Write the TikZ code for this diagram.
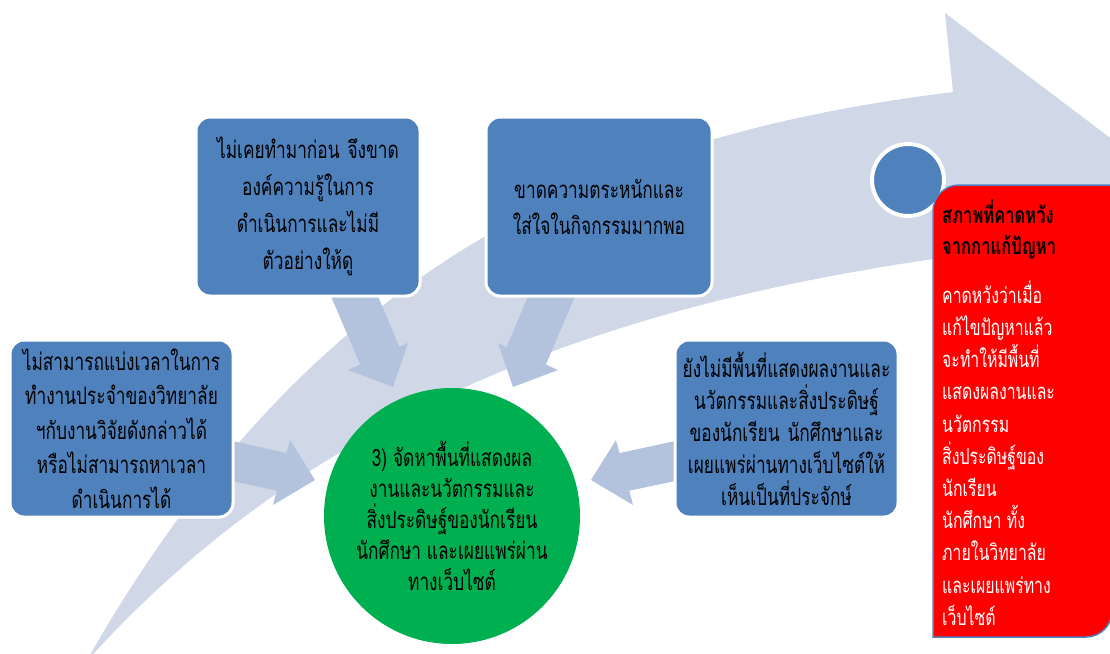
\documentclass[tikz,border=0pt]{standalone}
\usepackage{fontspec}
\newfontfamily\thai[Script=Thai,FakeStretch=0.72]{Loma}
\definecolor{bigarrow}{HTML}{D0D8E8}
\definecolor{medarrow}{HTML}{B3C2DD}
\definecolor{boxblue}{HTML}{4F81BD}
\definecolor{green1}{HTML}{00B050}
\tikzset{
  bluebox/.style={draw=white, line width=3pt, fill=boxblue, rounded corners=14pt, align=center, inner sep=0pt, text=black},
  medarr/.style={fill=medarrow, draw=none},
}
\begin{document}
\begin{tikzpicture}[x=1pt,y=-1pt]
\useasboundingbox (0,0) rectangle (1110,653);
\clip (0,0) rectangle (1110,653);
% big curved arrow
\fill[bigarrow] (86,662) .. controls (330,390) and (650,300) .. (940,258) -- (960,335) -- (1150,168) -- (945,13) -- (953,92) .. controls (650,130) and (330,230) .. (86,662) -- cycle;
% medium arrows
\fill[medarr] (330,294) -- (360.1,364.5) -- (348,370) -- (393,387) -- (408,343) -- (399.4,347) -- (377,294) -- cycle;
\fill[medarr] (576,294) -- (545.9,364.5) -- (558,370) -- (513,387) -- (498,343) -- (506.6,347) -- (529,294) -- cycle;
\fill[medarr] (228,440) -- (286.6,453.1) -- (290,440) -- (315,480) -- (273,505) -- (276.7,490.7) -- (228,480) -- cycle;
\fill[medarr] (680,440) -- (619.4,453.1) -- (616,440) -- (591,480) -- (633,505) -- (629.3,490.7) -- (680,480) -- cycle;
% boxes
\node[bluebox, minimum width=223pt, minimum height=177pt, text width=219pt, font=\thai\fontsize{24}{34.5}\selectfont] (a) at (121.5,428.5)
 {ไม่สามารถแบ่งเวลาในการ\\ทำงานประจำของวิทยาลัย\\ฯกับงานวิจัยดังกล่าวได้\\หรือไม่สามารถหาเวลา\\ดำเนินการได้};
\node[bluebox, minimum width=224pt, minimum height=179pt, text width=219pt, font=\thai\fontsize{24}{37}\selectfont] (b) at (308,206.5)
 {ไม่เคยทำมาก่อน จึงขาด\\องค์ความรู้ในการ\\ดำเนินการและไม่มี\\ตัวอย่างให้ดู};
\node[bluebox, minimum width=226pt, minimum height=179pt, text width=221pt, font=\thai\fontsize{24}{36}\selectfont] (c) at (599,206.5)
 {ขาดความตระหนักและ\\ใส่ใจในกิจกรรมมากพอ};
\node[bluebox, minimum width=223pt, minimum height=177pt, text width=219pt, font=\thai\fontsize{24}{32}\selectfont] (d) at (786.5,428.5)
 {ยังไม่มีพื้นที่แสดงผลงานและ\\นวัตกรรมและสิ่งประดิษฐ์\\ของนักเรียน นักศึกษาและ\\เผยแพร่ผ่านทางเว็บไซต์ให้\\เห็นเป็นที่ประจักษ์};
\node[circle, fill=green1, minimum size=256pt, inner sep=0pt, align=center, text=black, font=\thai\fontsize{24}{31}\selectfont] (g) at (452,516)
 {3) จัดหาพื้นที่แสดงผล\\งานและนวัตกรรมและ\\สิ่งประดิษฐ์ของนักเรียน\\นักศึกษา และเผยแพร่ผ่าน\\ทางเว็บไซต์};
% small circle
\node[circle, fill=boxblue, draw=white, line width=4pt, minimum size=72pt, inner sep=0pt] (s) at (908,180) {};
% red box
\draw[fill=red, draw=boxblue, line width=1.5pt] (933,637) -- (933,211) .. controls (933,196.6) and (944.6,185) .. (959,185) -- (1112,185) -- (1112,611) .. controls (1112,625.4) and (1100.4,637) .. (1086,637) -- cycle;
\node[anchor=west, align=left, inner sep=0pt, text=black, font=\thai\bfseries\fontsize{23}{31}\selectfont] (rt) at (942,229.5)
 {สภาพที่คาดหวัง\\จากกาแก้ปัญหา};
\node[anchor=west, align=left, inner sep=0pt, text=white, font=\thai\fontsize{22}{32.2}\selectfont] (rb) at (942,453)
 {คาดหวังว่าเมื่อ\\แก้ไขปัญหาแล้ว\\จะทำให้มีพื้นที่\\แสดงผลงานและ\\นวัตกรรม\\สิ่งประดิษฐ์ของ\\นักเรียน\\นักศึกษา ทั้ง\\ภายในวิทยาลัย\\และเผยแพร่ทาง\\เว็บไซต์};
\end{tikzpicture}
\end{document}
